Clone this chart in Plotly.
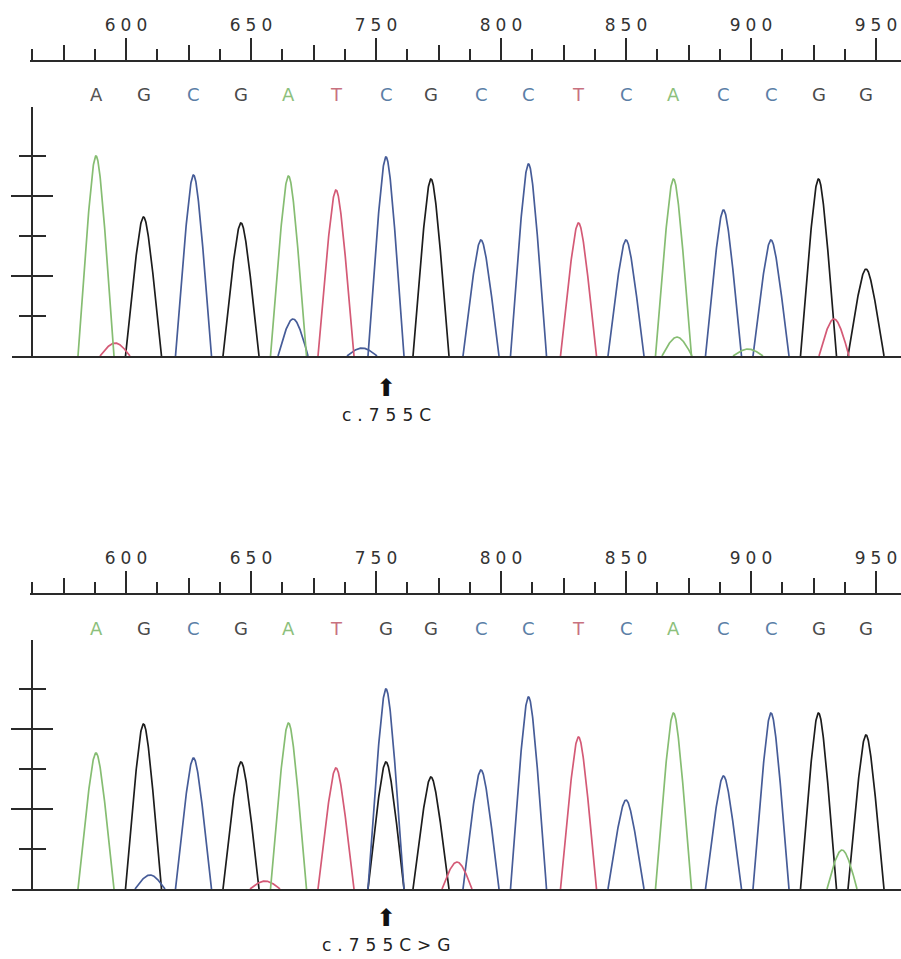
import math
import plotly.graph_objects as go

W, H = 901, 959

# ---------------- data ----------------
tick_vals = [600, 650, 700, 750, 800, 850, 900]
tick_text = ["600", "650", "750", "800", "850", "900", "950"]
mid_tick_vals = [575, 625, 675, 725, 775, 825, 875]

peak_pos = [588, 607, 627, 646, 665, 684, 704, 722, 742, 761, 781, 800, 819, 839, 858, 877, 896]

top_bases = list("AGCGATCGCCTCACCGG")
top_heights = [2000, 1390, 1810, 1330, 1800, 1660, 1990, 1770, 1160, 1920, 1330, 1160, 1770, 1460, 1160, 1770, 870]
top_minor_pos = [595.6, 666.8, 694.4, 820.4, 848.8, 883.2]
top_minor_bases = ["T", "C", "C", "A", "A", "T"]
top_minor_heights = [130, 370, 80, 190, 70, 370]

bottom_bases = list("AGCGATGGCCTCACCGG")
bottom_heights = [1360, 1650, 1310, 1270, 1660, 1210, 1270, 1120, 1190, 1920, 1520, 890, 1760, 1130, 1760, 1760, 1540]
bottom_minor_pos = [609.6, 655.6, 704, 732.4, 886.4]
bottom_minor_bases = ["C", "T", "C", "T", "A"]
bottom_minor_heights = [140, 80, 2000, 270, 390]

top_label = "c.755C"
bottom_label = "c.755C>G"
variant_index = 6

# ---------------- style ----------------
LINE_COL = {"A": "#86bd72", "G": "#1c1c1c", "C": "#465c98", "T": "#d45a76"}
LETTER_COL = {"A": "#8cc07c", "G": "#4a4a4a", "C": "#5b7ea6", "T": "#c8717f"}
AX = "#2a2a2a"
FONT = "DejaVu Sans"

X_LO = (12 - 126) / 2.5 + 600
X_HI = (901 - 126) / 2.5 + 600
R_LO = (30 - 126) / 2.5 + 600
Y_TOP = 2490


def profile(center, height):
    w = 7.2 if height >= 500 else 6.0
    a = 2.1 + 2.2 * max(0.0, 1 - height / 1000)
    n = 160
    xs, ys = [], []
    denom = math.sqrt(w * w + a * a) - a
    for i in range(n + 1):
        t = -w + 2 * w * i / n
        v = height * (1 - (math.sqrt(t * t + a * a) - a) / denom)
        xs.append(center + t)
        ys.append(max(0.0, v))
    return xs, ys


def peak_traces(pos, bases, heights, mpos, mbases, mheights, xa, ya):
    groups = {}
    for p, b, h in list(zip(pos, bases, heights)) + list(zip(mpos, mbases, mheights)):
        xs, ys = profile(p, h)
        gx, gy = groups.setdefault(b, ([], []))
        gx.extend(xs + [None])
        gy.extend(ys + [None])
    traces = []
    for b in ["G", "C", "T", "A"]:
        if b in groups:
            gx, gy = groups[b]
            traces.append(go.Scatter(x=gx, y=gy, mode="lines", xaxis=xa, yaxis=ya,
                                     line=dict(color=LINE_COL[b], width=1.7),
                                     hoverinfo="skip", showlegend=False))
    return traces


fig = go.Figure()

panels = [
    dict(bases=top_bases, heights=top_heights, mpos=top_minor_pos, mbases=top_minor_bases,
         mheights=top_minor_heights, label=top_label, ruler=61, top=107, base=356,
         letters=95, arrow=388, text=415, ax=["x", "y", "y2", "x2", "x3"],
         first_letter_col="#555555"),
    dict(bases=bottom_bases, heights=bottom_heights, mpos=bottom_minor_pos, mbases=bottom_minor_bases,
         mheights=bottom_minor_heights, label=bottom_label, ruler=594, top=640, base=889,
         letters=628, arrow=918, text=945, ax=["x4", "y3", "y4", "x5", "x6"],
         first_letter_col=None),
]

layout = {}
annotations = []


def lname(a):
    return a[0] + "axis" + a[1:]


for P in panels:
    xd, yd, yin, xr, xm = P["ax"]
    for tr in peak_traces(peak_pos, P["bases"], P["heights"], P["mpos"], P["mbases"], P["mheights"], xd, yd):
        fig.add_trace(tr)
    # invisible helpers so overlay / ruler axes get drawn
    fig.add_trace(go.Scatter(x=tick_vals, y=[0] * len(tick_vals), xaxis=xr, yaxis=yd, mode="markers",
                             marker=dict(opacity=0), hoverinfo="skip", showlegend=False))
    fig.add_trace(go.Scatter(x=mid_tick_vals, y=[0] * len(mid_tick_vals), xaxis=xm, yaxis=yd, mode="markers",
                             marker=dict(opacity=0), hoverinfo="skip", showlegend=False))
    fig.add_trace(go.Scatter(x=tick_vals, y=[0] * len(tick_vals), xaxis=xd, yaxis=yin, mode="markers",
                             marker=dict(opacity=0), hoverinfo="skip", showlegend=False))

    ydom = [1 - P["base"] / H, 1 - P["top"] / H]
    layout[lname(xd)] = dict(domain=[12 / W, 1], range=[X_LO, X_HI], anchor=yd, showline=True,
                             linecolor=AX, linewidth=1.5, showgrid=False, zeroline=False,
                             showticklabels=False, ticks="", fixedrange=True)
    common_y = dict(domain=ydom, range=[0, Y_TOP], anchor="free", position=32 / W,
                    showgrid=False, zeroline=False, showticklabels=False, fixedrange=True,
                    tickmode="array", tickvals=[800, 1600], ticklen=20, tickwidth=1.5, tickcolor=AX)
    layout[lname(yd)] = dict(common_y, showline=True, linecolor=AX, linewidth=1.5, ticks="outside",
                             minor=dict(tickmode="array", tickvals=[400, 1200, 2000], ticks="outside",
                                        ticklen=12, tickwidth=1.5, tickcolor=AX))
    layout[lname(yin)] = dict(common_y, overlaying=yd, showline=False, ticks="inside",
                              minor=dict(tickmode="array", tickvals=[400, 1200, 2000], ticks="inside",
                                         ticklen=13, tickwidth=1.5, tickcolor=AX))
    rpos = 1 - P["ruler"] / H
    layout[lname(xr)] = dict(domain=[30 / W, 1], range=[R_LO, X_HI], anchor="free", position=rpos,
                             side="top", showline=True, linecolor=AX, linewidth=1.5, ticks="outside",
                             tickmode="array", tickvals=tick_vals, ticktext=tick_text, ticklen=22,
                             tickwidth=1.5, tickcolor=AX, showgrid=False, zeroline=False, fixedrange=True,
                             tickfont=dict(family=FONT, size=17, color="#333333"),
                             minor=dict(ticks="outside", tick0=600, dtick=12.5, ticklen=11,
                                        tickwidth=1.5, tickcolor=AX))
    layout[lname(xm)] = dict(overlaying=xr, range=[R_LO, X_HI], anchor="free", position=rpos,
                             side="top", showline=False, ticks="outside", tickmode="array",
                             tickvals=mid_tick_vals, ticklen=16, tickwidth=1.5, tickcolor=AX,
                             showticklabels=False, showgrid=False, zeroline=False, fixedrange=True)

    # base letters
    for i, (p, b) in enumerate(zip(peak_pos, P["bases"])):
        col = LETTER_COL[b]
        if i == 0 and P["first_letter_col"]:
            col = P["first_letter_col"]
        annotations.append(dict(x=p, y=1 - P["letters"] / H, xref=xd, yref="paper", text=b,
                                showarrow=False, font=dict(family=FONT, size=18, color=col),
                                xanchor="center", yanchor="middle"))
    # variant arrow and label
    vx = peak_pos[variant_index]
    annotations.append(dict(x=vx, y=1 - P["arrow"] / H, xref=xd, yref="paper", text="⬆",
                            showarrow=False, font=dict(family=FONT, size=24, color="#111111"),
                            xanchor="center", yanchor="middle"))
    annotations.append(dict(x=vx, y=1 - P["text"] / H, xref=xd, yref="paper", text=P["label"],
                            showarrow=False, font=dict(family=FONT, size=17, color="#222222"),
                            xanchor="center", yanchor="middle"))

fig.update_layout(**layout)
fig.update_layout(width=W, height=H, margin=dict(l=0, r=0, t=0, b=0),
                  paper_bgcolor="white", plot_bgcolor="rgba(0,0,0,0)", showlegend=False,
                  font=dict(family=FONT), annotations=annotations)

post = """
document.body.style.margin='0';
document.body.style.padding='0';
document.documentElement.style.overflow='hidden';
var gd = document.getElementById('{plot_id}');
function applyLS(){
  gd.querySelectorAll('g[class$="tick"] text').forEach(function(t){
    t.style.letterSpacing='5px'; t.setAttribute('dx','2.5');
  });
  gd.querySelectorAll('.annotation-text').forEach(function(t){
    if (t.textContent.indexOf('c.')===0){ t.style.letterSpacing='6px'; t.setAttribute('dx','3'); }
  });
}
applyLS();
gd.on('plotly_afterplot', applyLS);
"""

fig.write_html("out.html", post_script=post, config={"displayModeBar": False})
